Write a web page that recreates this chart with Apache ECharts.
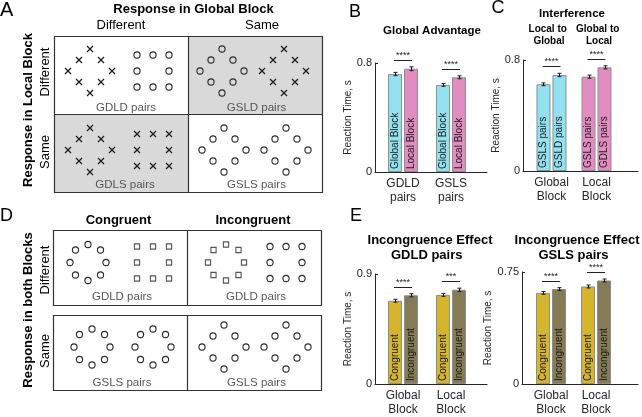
<!DOCTYPE html>
<html><head><meta charset="utf-8">
<script src="https://cdn.jsdelivr.net/npm/echarts@6/dist/echarts.min.js"></script>
<style>html,body{margin:0;padding:0;background:#fff}#c{width:642px;height:417px}</style>
</head><body><div id="c"></div>
<script>
// ================= DATA =================
const pairCategories = ['GDLD\npairs', 'GSLS\npairs'];
const blockCategories = ['Global\nBlock', 'Local\nBlock'];

// B: Global Advantage (Reaction Time, s)
const advGlobalBlock = [0.719, 0.639];
const advLocalBlock  = [0.758, 0.695];
const advGlobalErr   = [0.012, 0.010];
const advLocalErr    = [0.014, 0.011];
const advSeriesNames = ['Global Block', 'Local Block'];
const advSig = ['****', '****'];
const advTicks = [0, 0.8];

// C: Interference
const intFirst  = [0.625, 0.680];
const intSecond = [0.692, 0.747];
const intFirstErr  = [0.010, 0.011];
const intSecondErr = [0.012, 0.011];
const intFirstLabels  = ['GSLS pairs', 'GSLS pairs'];
const intSecondLabels = ['GSLD pairs', 'GDLS pairs'];
const intSig = ['****', '****'];
const intTicks = [0, 0.8];

// E: Incongruence effect, GDLD pairs
const gdldCongruent   = [0.681, 0.729];
const gdldIncongruent = [0.726, 0.771];
const gdldCongErr   = [0.012, 0.012];
const gdldIncongErr = [0.013, 0.013];
const gdldSig = ['****', '***'];
const gdldTicks = [0, 0.9];

// E: Incongruence effect, GSLS pairs
const gslsCongruent   = [0.610, 0.653];
const gslsIncongruent = [0.636, 0.693];
const gslsCongErr   = [0.009, 0.010];
const gslsIncongErr = [0.009, 0.010];
const gslsSig = ['****', '****'];
const gslsTicks = [0, 0.75];

const congSeriesNames = ['Congruent', 'Incongruent'];

// ================= STYLE / LAYOUT =================
const FONT = '"Liberation Sans", Arial, Helvetica, sans-serif';
const AX = '#262626';
const CYAN = '#91e1f1', PINK = '#e28cc1', GOLD = '#d5b52c', OLIVE = '#857b55';
const BAR_W = 14, BAR_GAP_PX = 2;
const HALF = (BAR_W + BAR_GAP_PX) / 2;

const grids = [], xAxes = [], yAxes = [], series = [];

function errRender(offset) {
  return function (params, api) {
    const x = api.value(0), v = api.value(1), e = api.value(2);
    const t = api.coord([x, v + e]), b = api.coord([x, v - e]);
    const cx = Math.round(t[0] + offset) + 0.5;
    const st = { stroke: '#1a1a1a', lineWidth: 1 };
    return { type: 'group', children: [
      { type: 'line', shape: { x1: cx, y1: t[1], x2: cx, y2: b[1] }, style: st },
      { type: 'line', shape: { x1: cx - 2, y1: t[1], x2: cx + 2, y2: t[1] }, style: st },
      { type: 'line', shape: { x1: cx - 2, y1: b[1], x2: cx + 2, y2: b[1] }, style: st }
    ]};
  };
}
function sigRender(sigArr) {
  return function (params, api) {
    const p = api.coord([api.value(0), api.value(1)]);
    const y = Math.round(p[1] - 7) + 0.5;
    return { type: 'group', children: [
      { type: 'line', shape: { x1: p[0] - 9, y1: y, x2: p[0] + 9, y2: y }, style: { stroke: '#222', lineWidth: 1 } },
      { type: 'text', x: p[0], y: y - 0.5, style: { text: sigArr[params.dataIndex], fill: '#222',
        font: '9px ' + FONT, textAlign: 'center', textVerticalAlign: 'bottom', align: 'center', verticalAlign: 'bottom' } }
    ]};
  };
}

function addBarPanel(cfg) {
  const gi = grids.length;
  grids.push({ left: cfg.left, top: cfg.top, width: cfg.width, height: cfg.height, containLabel: false });
  xAxes.push({
    type: 'value', gridIndex: gi, min: cfg.xMin, max: cfg.xMax,
    axisLine: { show: true, onZero: false, lineStyle: { color: AX, width: 1 } },
    axisTick: { show: false }, splitLine: { show: false },
    axisLabel: { customValues: [1, 2], formatter: v => cfg.cats[Math.round(v) - 1] || '',
      fontSize: 12, color: AX, lineHeight: 14, margin: 5, fontFamily: FONT }
  });
  yAxes.push({
    type: 'value', gridIndex: gi, min: cfg.ticks[0], max: cfg.ticks[1],
    axisLine: { show: true, lineStyle: { color: AX, width: 1 } },
    axisTick: { show: true, inside: true, length: 3, customValues: cfg.ticks, lineStyle: { color: AX } },
    splitLine: { show: false },
    axisLabel: { customValues: cfg.ticks, fontSize: 11, color: AX, margin: 3, fontFamily: FONT },
    name: 'Reaction Time, s', nameLocation: 'middle', nameGap: 3,
    nameTextStyle: { fontSize: 10, color: AX, fontFamily: FONT }
  });
  const mk = (vals, colors, labels) => ({
    type: 'bar', xAxisIndex: gi, yAxisIndex: gi, silent: true,
    data: vals.map((v, k) => [k + 1, v]),
    barWidth: BAR_W, barGap: (BAR_GAP_PX / BAR_W * 100) + '%',
    itemStyle: { color: p => colors[p.dataIndex], borderColor: '#8d8d8d', borderWidth: 1 },
    label: { show: true, position: 'insideBottom', rotate: 90, align: 'left', verticalAlign: 'middle',
      distance: 3, formatter: p => labels[p.dataIndex], fontSize: 10, color: '#1a1a1a', fontFamily: FONT }
  });
  series.push(mk(cfg.s1, cfg.c1, cfg.l1));
  series.push(mk(cfg.s2, cfg.c2, cfg.l2));
  series.push({ type: 'custom', xAxisIndex: gi, yAxisIndex: gi, silent: true, z: 5,
    renderItem: errRender(-HALF), encode: { x: 0, y: 1 },
    data: cfg.s1.map((v, k) => [k + 1, v, cfg.e1[k]]) });
  series.push({ type: 'custom', xAxisIndex: gi, yAxisIndex: gi, silent: true, z: 5,
    renderItem: errRender(HALF), encode: { x: 0, y: 1 },
    data: cfg.s2.map((v, k) => [k + 1, v, cfg.e2[k]]) });
  series.push({ type: 'custom', xAxisIndex: gi, yAxisIndex: gi, silent: true, z: 5,
    renderItem: sigRender(cfg.sig), encode: { x: 0, y: 1 },
    data: cfg.s1.map((v, k) => [k + 1, Math.max(v + cfg.e1[k], cfg.s2[k] + cfg.e2[k])]) });
}

addBarPanel({ left: 375, top: 63, width: 112, height: 109, xMin: 0.417, xMax: 2.75, ticks: advTicks,
  cats: pairCategories, s1: advGlobalBlock, s2: advLocalBlock, e1: advGlobalErr, e2: advLocalErr,
  c1: [CYAN, CYAN], c2: [PINK, PINK],
  l1: [advSeriesNames[0], advSeriesNames[0]], l2: [advSeriesNames[1], advSeriesNames[1]], sig: advSig });
addBarPanel({ left: 523, top: 60, width: 115, height: 111, xMin: 0.367, xMax: 2.922, ticks: intTicks,
  cats: blockCategories, s1: intFirst, s2: intSecond, e1: intFirstErr, e2: intSecondErr,
  c1: [CYAN, PINK], c2: [CYAN, PINK], l1: intFirstLabels, l2: intSecondLabels, sig: intSig });
addBarPanel({ left: 375, top: 274, width: 112, height: 112, xMin: 0.417, xMax: 2.75, ticks: gdldTicks,
  cats: blockCategories, s1: gdldCongruent, s2: gdldIncongruent, e1: gdldCongErr, e2: gdldIncongErr,
  c1: [GOLD, GOLD], c2: [OLIVE, OLIVE],
  l1: [congSeriesNames[0], congSeriesNames[0]], l2: [congSeriesNames[1], congSeriesNames[1]], sig: gdldSig });
addBarPanel({ left: 522, top: 272, width: 116, height: 114, xMin: 0.356, xMax: 2.933, ticks: gslsTicks,
  cats: blockCategories, s1: gslsCongruent, s2: gslsIncongruent, e1: gslsCongErr, e2: gslsIncongErr,
  c1: [GOLD, GOLD], c2: [OLIVE, OLIVE],
  l1: [congSeriesNames[0], congSeriesNames[0]], l2: [congSeriesNames[1], congSeriesNames[1]], sig: gslsSig });

// ================= SCHEMATIC PANELS (A, D) =================
const G = [];
function txt(x, y, text, size, opt) {
  opt = opt || {};
  G.push({ type: 'text', x: x, y: y, rotation: opt.rot || 0, silent: true,
    style: { text: text, font: (opt.bold ? 'bold ' : '') + size + 'px ' + FONT, fill: opt.color || '#000',
      textAlign: opt.align || 'center', textVerticalAlign: 'middle', align: opt.align || 'center', verticalAlign: 'middle' } });
}
function rect(x, y, w, h, fill, stroke) {
  G.push({ type: 'rect', silent: true, shape: { x: x, y: y, width: w, height: h },
    style: { fill: fill || 'none', stroke: stroke || 'none', lineWidth: 1.2 } });
}
function seg(x1, y1, x2, y2, c, w) {
  G.push({ type: 'line', silent: true, shape: { x1, y1, x2, y2 }, style: { stroke: c, lineWidth: w } });
}
function cross(x, y) { seg(x - 3, y - 3, x + 3, y + 3, '#1e1e1e', 1.2); seg(x - 3, y + 3, x + 3, y - 3, '#1e1e1e', 1.2); }
function circ(x, y) { G.push({ type: 'circle', silent: true, shape: { cx: x, cy: y, r: 3.1 }, style: { fill: 'none', stroke: '#2a2a2a', lineWidth: 1.1 } }); }
function sq(x, y) { G.push({ type: 'rect', silent: true, shape: { x: x - 2.6, y: y - 2.6, width: 5.2, height: 5.2 }, style: { fill: 'none', stroke: '#555', lineWidth: 1.1 } }); }
const DIAMOND = [[0,-22],[-11,-11],[11,-11],[-22,0],[22,0],[-11,11],[11,11],[0,22]];
const SQUARE = [[-16,-16],[0,-16],[16,-16],[-16,0],[16,0],[-16,16],[0,16],[16,16]];
const RING = [[0,-18],[-12.5,-12.5],[12.5,-12.5],[-18,0],[18,0],[-12.5,12.5],[12.5,12.5],[0,18]];
function pattern(fn, pat, cx, cy) { pat.forEach(p => fn(cx + p[0], cy + p[1])); }

// Panel A
rect(188.5, 36.5, 134, 78, '#d9d9d9');
rect(54.5, 114.5, 134, 78, '#d9d9d9');
rect(54.5, 36.5, 268, 156, 'none', '#333');
seg(188.5, 36.5, 188.5, 192.5, '#333', 1.2);
seg(54.5, 114.5, 322.5, 114.5, '#333', 1.2);
pattern(cross, DIAMOND, 90, 71); pattern(circ, SQUARE, 153, 71);
pattern(circ, DIAMOND, 222, 71); pattern(cross, DIAMOND, 284, 71);
pattern(cross, DIAMOND, 90, 150); pattern(cross, SQUARE, 153, 150);
pattern(circ, DIAMOND, 224, 150); pattern(circ, DIAMOND, 286, 150);
txt(0, 10, 'A', 20, { align: 'left' });
txt(193.5, 9, 'Response in Global Block', 13, { bold: true });
txt(121, 25.5, 'Different', 13);
txt(262, 25.5, 'Same', 13);
txt(28.5, 110, 'Response in Local Block', 13, { bold: true, rot: Math.PI / 2 });
txt(45, 72, 'Different', 13, { rot: Math.PI / 2 });
txt(45, 152, 'Same', 13, { rot: Math.PI / 2 });
txt(126, 108, 'GDLD pairs', 11.5, { color: '#555' });
txt(256.5, 108, 'GSLD pairs', 11.5, { color: '#555' });
txt(125, 185, 'GDLS pairs', 11.5, { color: '#555' });
txt(256.5, 185, 'GSLS pairs', 11.5, { color: '#555' });

// Panel D
rect(53.5, 230.5, 268, 75, 'none', '#333');
rect(53.5, 315.5, 268, 75, 'none', '#333');
seg(187.5, 230.5, 187.5, 305.5, '#333', 1.2);
seg(187.5, 315.5, 187.5, 390.5, '#333', 1.2);
pattern(circ, RING, 88, 262.5); pattern(sq, SQUARE, 153, 262.5);
pattern(sq, RING, 226, 262.5); pattern(circ, SQUARE, 286, 262.5);
pattern(circ, RING, 92, 347); pattern(circ, RING, 153, 347);
pattern(circ, DIAMOND, 224, 347); pattern(circ, DIAMOND, 286, 347);
txt(0, 216, 'D', 18, { align: 'left' });
txt(118.5, 220, 'Congruent', 13, { bold: true });
txt(253, 220, 'Incongruent', 13, { bold: true });
txt(28.5, 310, 'Response in both Blocks', 13, { bold: true, rot: Math.PI / 2 });
txt(45, 270, 'Different', 13, { rot: Math.PI / 2 });
txt(45, 351, 'Same', 13, { rot: Math.PI / 2 });
txt(122, 297, 'GDLD pairs', 11.5, { color: '#555' });
txt(256, 297, 'GDLD pairs', 11.5, { color: '#555' });
txt(122, 382.5, 'GSLS pairs', 11.5, { color: '#555' });
txt(256.5, 382.5, 'GSLS pairs', 11.5, { color: '#555' });

// Titles of B, C, E
txt(349, 12, 'B', 18, { align: 'left' });
txt(432, 31, 'Global Advantage', 11.5, { bold: true });
txt(491.5, 8, 'C', 18, { align: 'left' });
txt(572, 14, 'Interference', 11.5, { bold: true });
txt(547.7, 29, 'Local to', 10, { bold: true });
txt(549, 41, 'Global', 10, { bold: true });
txt(597.7, 29, 'Global to', 10, { bold: true });
txt(599, 41, 'Local', 10, { bold: true });
txt(350, 216, 'E', 18, { align: 'left' });
txt(430, 240, 'Incongruence Effect', 13, { bold: true });
txt(426.7, 255.5, 'GDLD pairs', 13, { bold: true });
txt(577, 240, 'Incongruence Effect', 13, { bold: true });
txt(573.5, 255.5, 'GSLS pairs', 13, { bold: true });

const chart = echarts.init(document.getElementById('c'), null, { renderer: 'canvas' });
chart.setOption({
  animation: false,
  backgroundColor: '#fff',
  textStyle: { fontFamily: FONT },
  grid: grids, xAxis: xAxes, yAxis: yAxes, series: series,
  graphic: { elements: G }
});
</script></body></html>
